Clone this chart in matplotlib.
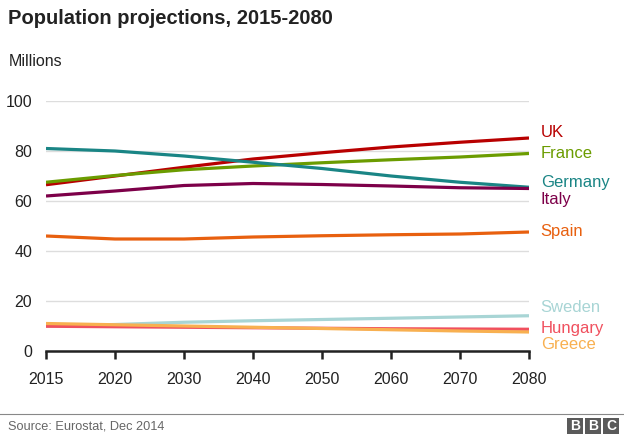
import matplotlib.pyplot as plt
from matplotlib.patches import Rectangle
from matplotlib.lines import Line2D

plt.rcParams['font.family'] = ['Liberation Sans', 'DejaVu Sans']

years = ['2015', '2020', '2030', '2040', '2050', '2060', '2070', '2080']

countries = ['UK', 'France', 'Germany', 'Italy', 'Spain', 'Sweden', 'Hungary', 'Greece']
uk = [66.5, 70.0, 73.5, 76.8, 79.3, 81.6, 83.5, 85.2]
france = [67.5, 70.2, 72.5, 74.0, 75.3, 76.5, 77.6, 79.0]
germany = [81.0, 80.0, 78.0, 75.5, 73.0, 70.0, 67.5, 65.5]
italy = [62.0, 64.0, 66.2, 67.0, 66.6, 66.0, 65.3, 65.0]
spain = [46.0, 44.8, 44.8, 45.6, 46.1, 46.5, 46.8, 47.6]
sweden = [10.0, 10.6, 11.5, 12.1, 12.6, 13.1, 13.6, 14.1]
hungary = [9.9, 9.7, 9.5, 9.3, 9.1, 8.9, 8.8, 8.7]
greece = [11.0, 10.5, 10.0, 9.5, 9.0, 8.5, 8.0, 7.6]

series = [uk, france, germany, italy, spain, sweden, hungary, greece]
colors = ['#b80000', '#6b9c00', '#1a8585', '#7d0049', '#e8600f',
          '#a8d5d5', '#f0505e', '#f8b050']
label_y = [87.3, 79.0, 67.3, 60.7, 47.8, 17.2, 9.2, 2.7]

fig = plt.figure(figsize=(6.24, 4.4), dpi=100)
ax = fig.add_axes([46 / 624, 89 / 440, 483 / 624, 250 / 440])

x = list(range(len(years)))
for vals, col in zip(series, colors):
    ax.plot(x, vals, color=col, lw=2.3, solid_capstyle='butt', zorder=3)

for name, col, ly in zip(countries, colors, label_y):
    ax.text(7.17, ly, name, color=col, fontsize=12, va='center', ha='left')

ax.set_xlim(0, 7)
ax.set_ylim(0, 100)
ax.set_xticks(x)
ax.set_xticklabels(years)
ax.set_yticks([0, 20, 40, 60, 80, 100])
ax.yaxis.grid(True, color='#dddddd', lw=1)
ax.set_axisbelow(True)
for s in ['top', 'right', 'left']:
    ax.spines[s].set_visible(False)
ax.spines['bottom'].set_color('#222222')
ax.spines['bottom'].set_linewidth(1.8)
ax.spines['bottom'].set_zorder(4)
ax.tick_params(axis='x', length=6, width=1.8, color='#222222', pad=9,
               labelsize=11.5, labelcolor='#222222')
ax.tick_params(axis='y', length=0, pad=10, labelsize=11.5, labelcolor='#222222')

fig.text(8 / 624, 1 - 18 / 440, 'Population projections, 2015-2080',
         fontsize=14.5, fontweight='bold', color='#222222', va='center')
fig.text(9 / 624, 1 - 62 / 440, 'Millions', fontsize=11.5, color='#222222', va='center')

fig.add_artist(Line2D([0, 1], [1 - 414 / 440] * 2, color='#888888', lw=0.8))
fig.text(8 / 624, 1 - 426 / 440, 'Source: Eurostat, Dec 2014',
         fontsize=9.2, color='#666666', va='center')

for i, letter in enumerate('BBC'):
    x0 = 567 + i * 18
    fig.add_artist(Rectangle((x0 / 624, 1 - 434 / 440), 16 / 624, 16 / 440,
                             facecolor='#5a5a5a', edgecolor='none'))
    fig.text((x0 + 8) / 624, 1 - 426 / 440, letter, color='white',
             fontsize=10, fontweight='bold', ha='center', va='center')

fig.savefig('out.png', dpi=100)
